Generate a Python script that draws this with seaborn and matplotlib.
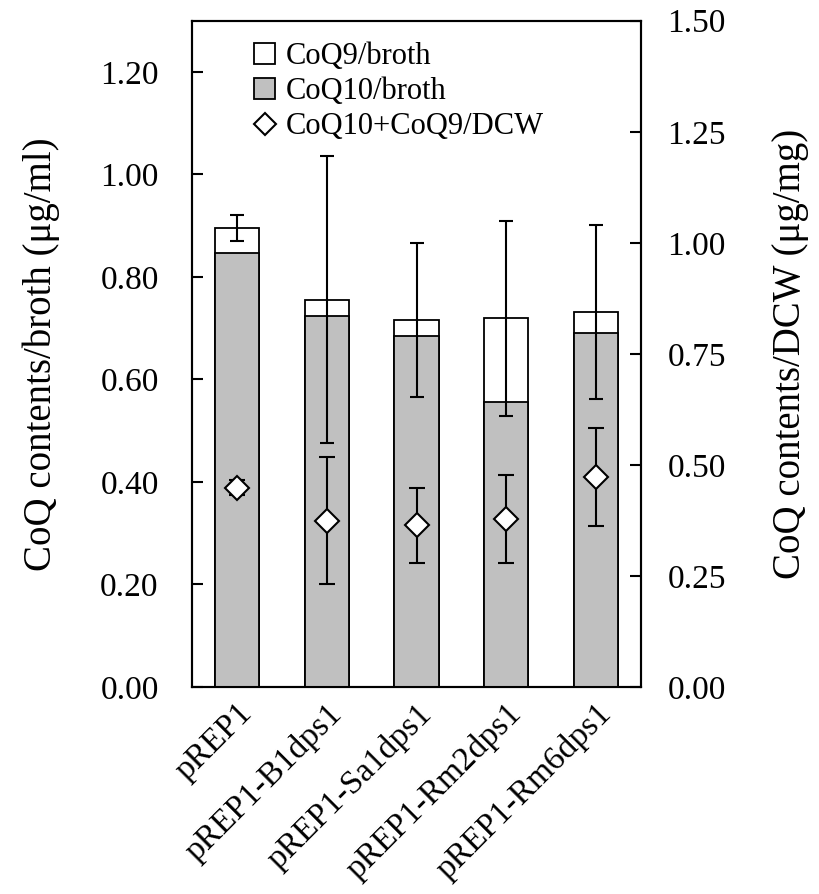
import matplotlib
matplotlib.use("Agg")
import matplotlib.pyplot as plt
from matplotlib.patches import Patch
from matplotlib.lines import Line2D
import seaborn as sns
import pandas as pd

# ---- data ----
strains = ["pREP1", "pREP1-B1dps1", "pREP1-Sa1dps1", "pREP1-Rm2dps1", "pREP1-Rm6dps1"]
coq10_broth = [0.846, 0.724, 0.684, 0.557, 0.691]
total_broth = [0.895, 0.756, 0.716, 0.719, 0.732]
total_broth_err = [0.025, 0.280, 0.150, 0.190, 0.170]
dcw_total = [0.449, 0.374, 0.364, 0.379, 0.473]
dcw_err = [0.017, 0.143, 0.085, 0.099, 0.110]
left_ticks = [0.00, 0.20, 0.40, 0.60, 0.80, 1.00, 1.20]
right_ticks = [0.00, 0.25, 0.50, 0.75, 1.00, 1.25, 1.50]

df = pd.DataFrame({"strain": strains, "coq10": coq10_broth, "total": total_broth})

sns.set_style("ticks")
plt.rcParams["font.family"] = ["Liberation Serif", "DejaVu Serif"]
plt.rcParams["text.color"] = "black"
plt.rcParams["axes.labelcolor"] = "black"
plt.rcParams["xtick.color"] = "black"
plt.rcParams["ytick.color"] = "black"

fig = plt.figure(figsize=(8.19, 8.94), dpi=100)
ax = fig.add_axes([192 / 819, 1 - 687 / 894, (641 - 192) / 819, (687 - 20.7) / 894])

bar_w = 0.49
gray = "#C0C0C0"
sns.barplot(data=df, x="strain", y="total", color="white", edgecolor="black",
            linewidth=1.3, width=bar_w, saturation=1, ax=ax, zorder=2)
sns.barplot(data=df, x="strain", y="coq10", color=gray, edgecolor="black",
            linewidth=1.3, width=bar_w, saturation=1, ax=ax, zorder=3)
ax.errorbar(range(len(strains)), total_broth, yerr=total_broth_err, fmt="none",
            ecolor="black", elinewidth=1.5, capsize=5, capthick=1.5, zorder=4)

ax.set_xlim(-0.5, 4.5)
ax.set_ylim(0, 1.30)
ax.set_yticks(left_ticks)
ax.set_yticklabels([f"{v:.2f}" for v in left_ticks], fontsize=24)
ax.set_xlabel("")
ax.set_ylabel("CoQ contents/broth (μg/ml)", fontsize=28, labelpad=29)
ax.tick_params(axis="y", direction="in", length=8, width=1.5, pad=24)
ax.tick_params(axis="x", length=0, pad=8)
ax.set_xticks(range(len(strains)))
ax.set_xticklabels(strains, rotation=45, ha="right", va="top",
                   rotation_mode="anchor", fontsize=24)
for s in ax.spines.values():
    s.set_linewidth(1.5)
    s.set_color("black")

ax2 = ax.twinx()
ax2.errorbar(range(len(strains)), dcw_total, yerr=dcw_err, fmt="D",
             markersize=12, markerfacecolor="white", markeredgecolor="black",
             markeredgewidth=1.5, ecolor="black", elinewidth=1.5, capsize=5.5,
             capthick=1.5, zorder=5)
ax2.set_ylim(0, 1.50)
ax2.set_yticks(right_ticks)
ax2.set_yticklabels([f"{v:.2f}" for v in right_ticks], fontsize=24)
ax2.set_ylabel("CoQ contents/DCW (μg/mg)", fontsize=28, labelpad=33)
ax2.tick_params(axis="y", direction="in", length=8, width=1.5, pad=19)
for s in ax2.spines.values():
    s.set_linewidth(1.5)
    s.set_color("black")
ax2.set_xlim(-0.5, 4.5)

handles = [
    Patch(facecolor="white", edgecolor="black", linewidth=1.3, label="CoQ9/broth"),
    Patch(facecolor=gray, edgecolor="black", linewidth=1.3, label="CoQ10/broth"),
    Line2D([], [], marker="D", linestyle="none", markersize=11, markerfacecolor="white",
           markeredgecolor="black", markeredgewidth=1.5, label="CoQ10+CoQ9/DCW"),
]
ax2.legend(handles=handles, loc="upper left", bbox_to_anchor=(0.138, 0.968),
           frameon=False, fontsize=22, handlelength=0.7, handleheight=0.7,
           handletextpad=0.35, labelspacing=0.2, borderpad=0, borderaxespad=0)

fig.savefig("out.png", dpi=100)
